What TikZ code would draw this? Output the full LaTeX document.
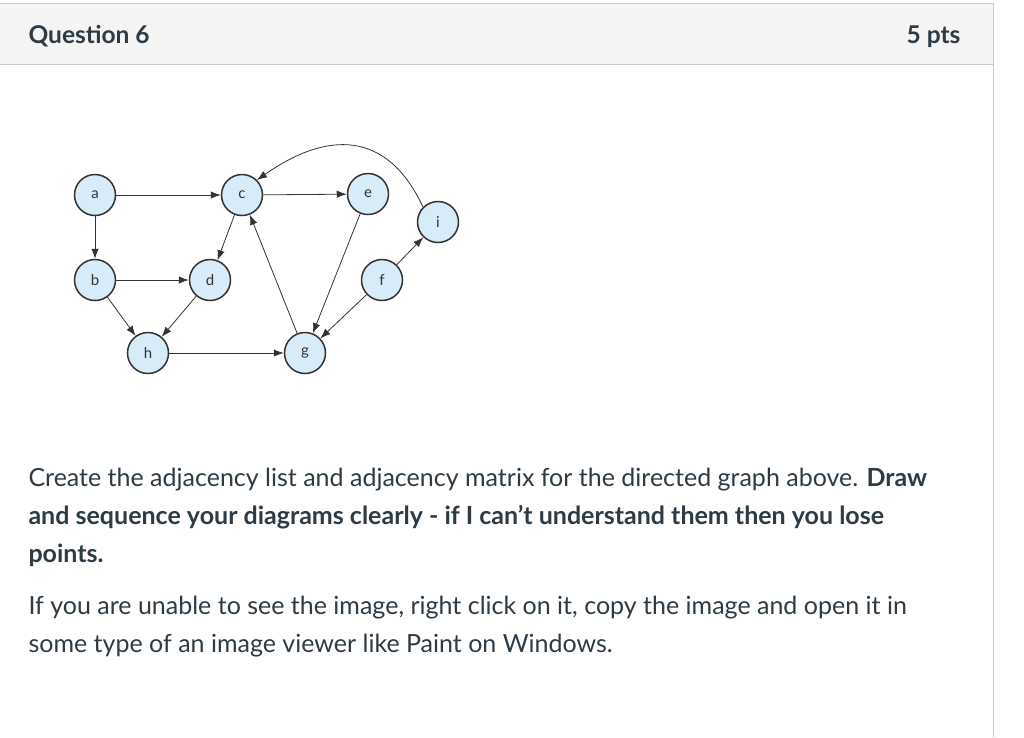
\documentclass[tikz,border=0pt]{standalone}
\usepackage{fontspec}
\setmainfont{Lato}
\usetikzlibrary{arrows.meta}
\definecolor{txt}{HTML}{2D3B45}
\definecolor{hdr}{HTML}{F4F4F4}
\definecolor{brd}{HTML}{C7CDD1}
\definecolor{nfill}{HTML}{D7EBF8}
\definecolor{edge}{HTML}{333333}
\tikzset{
 vert/.style={circle,draw=edge,line width=1.5pt,fill=nfill,minimum size=41pt,inner sep=0pt,font=\fontsize{15}{15}\selectfont,text=edge},
 arc/.style={draw=edge,line width=0.8pt,-{Latex[length=10pt,width=7.5pt]}},
 line/.style={anchor=base west,text=txt,font=\fontsize{25}{30}\selectfont}
}
\begin{document}
\begin{tikzpicture}[x=1pt,y=-1pt]
\useasboundingbox (0,0) rectangle (1024,737);
\fill[hdr] (0,3) rectangle (993,64);
\draw[brd,line width=1pt] (0,3) -- (993,3) -- (993,737);
\draw[brd,line width=1pt] (0,64) -- (993,64);
\node[line,font=\bfseries\fontsize{24.5}{28}\selectfont] (q) at (25,43) {Question 6};
\node[anchor=base east,text=txt,font=\bfseries\fontsize{24.5}{28}\selectfont] (p) at (964,43) {5 pts};
\node[vert] (a) at (95,195) {a};
\node[vert] (c) at (242,195) {c};
\node[vert] (e) at (368,194) {e};
\node[vert] (i) at (438,222) {i};
\node[vert] (b) at (95,280) {b};
\node[vert] (d) at (210,280) {d};
\node[vert] (f) at (382,280) {f};
\node[vert] (h) at (148,353) {h};
\node[vert] (g) at (305,353) {g};
\draw[arc] (a) -- (c);
\draw[arc] (a) -- (b);
\draw[arc] (c) -- (e);
\draw[arc] (c) -- (d);
\draw[arc] (b) -- (d);
\draw[arc] (b) -- (h);
\draw[arc] (d) -- (h);
\draw[arc] (h) -- (g);
\draw[arc] (g) -- (c);
\draw[arc] (e) -- (g);
\draw[arc] (f) -- (g);
\draw[arc] (f) -- (i);
\draw[arc] (i.north west) to[out=115,in=35,looseness=1.3] (c.north east);
\node[line] (l1) at (25,486) {Create the adjacency list and adjacency matrix for the directed graph above. \textbf{Draw}};
\node[line] (l2) at (25,524) {\textbf{and sequence your diagrams clearly - if I can't understand them then you lose}};
\node[line] (l3) at (25,562) {\textbf{points.}};
\node[line] (l4) at (25,614) {If you are unable to see the image, right click on it, copy the image and open it in};
\node[line] (l5) at (25,652) {some type of an image viewer like Paint on Windows.};
\end{tikzpicture}
\end{document}
